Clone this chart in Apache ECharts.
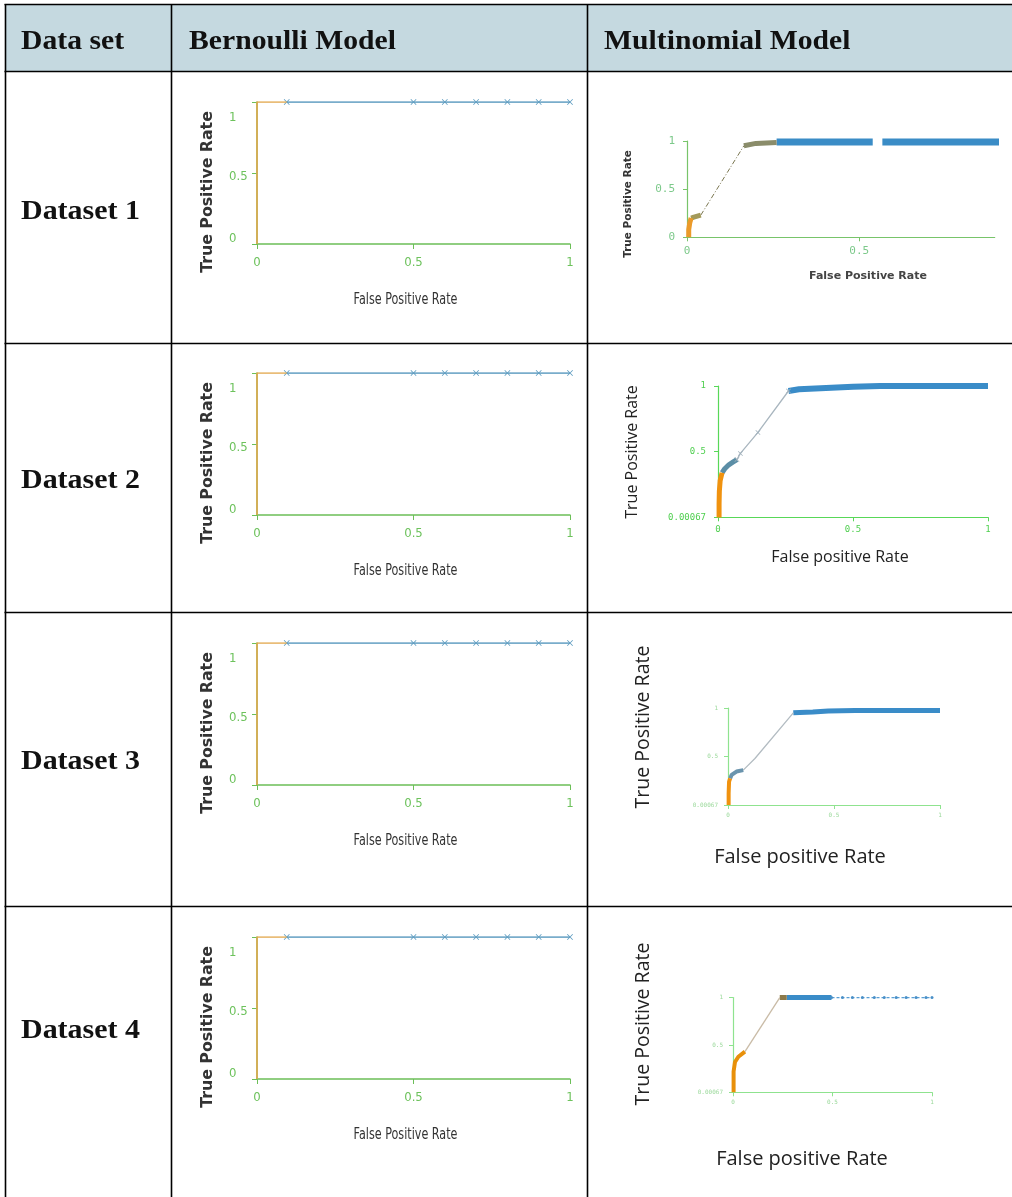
<!DOCTYPE html>
<html>
<head>
<meta charset="utf-8">
<script src="https://cdn.jsdelivr.net/npm/echarts@6/dist/echarts.min.js"></script>
<style>
html,body{margin:0;padding:0;background:#fff;}
#main{width:1012px;height:1197px;}
</style>
</head>
<body>
<div id="main"></div>
<script>
// ---------- DATA ----------
const columnHeaders = ['Data set', 'Bernoulli Model', 'Multinomial Model'];
const categories = ['Dataset 1', 'Dataset 2', 'Dataset 3', 'Dataset 4'];
const yTitle = 'True Positive Rate';
const bernXTitle = 'False Positive Rate';
const multiXTitles = ['False Positive Rate', 'False positive Rate', 'False positive Rate', 'False positive Rate'];

// Bernoulli model (identical for all four data sets)
const bernTicks = [0, 0.5, 1];
const bernOrangeFPR = [0, 0, 0.095];
const bernOrangeTPR = [0, 1, 1];
const bernBlueFPR = [0.095, 0.5, 0.6, 0.7, 0.8, 0.9, 1.0];
const bernBlueTPR = [1, 1, 1, 1, 1, 1, 1];

// Multinomial model, tick labels
const m1XTicks = [0, 0.5];
const m1YTicks = [0, 0.5, 1];
const mXTicks = [0, 0.5, 1];
const mYTicks = [0.00067, 0.5, 1];

// Multinomial - Dataset 1
const m1OrangeFPR = [0.005, 0.005, 0.008, 0.012];
const m1OrangeTPR = [0.0, 0.08, 0.15, 0.2];
const m1KneeFPR = [0.012, 0.02, 0.03, 0.04];
const m1KneeTPR = [0.2, 0.21, 0.22, 0.23];
const m1DiagFPR = [0.04, 0.165];
const m1DiagTPR = [0.23, 0.95];
const m1TopFPR = [0.165, 0.2, 0.26];
const m1TopTPR = [0.95, 0.975, 0.985];
const m1BandAFPR = [0.26, 0.4, 0.539];
const m1BandATPR = [0.99, 0.99, 0.99];
const m1BandBFPR = [0.567, 0.7, 0.85, 1.0];
const m1BandBTPR = [0.99, 0.99, 0.99, 0.99];

// Multinomial - Dataset 2
const m2OrangeFPR = [0.004, 0.004, 0.005, 0.008, 0.015];
const m2OrangeTPR = [0.0, 0.1, 0.2, 0.28, 0.34];
const m2KneeFPR = [0.015, 0.025, 0.04, 0.055, 0.07];
const m2KneeTPR = [0.34, 0.37, 0.40, 0.42, 0.44];
const m2DiagFPR = [0.07, 0.083, 0.148, 0.261];
const m2DiagTPR = [0.44, 0.487, 0.647, 0.962];
const m2BandFPR = [0.261, 0.3, 0.4, 0.5, 0.6, 0.8, 1.0];
const m2BandTPR = [0.962, 0.975, 0.985, 0.995, 1.0, 1.0, 1.0];

// Multinomial - Dataset 3
const m3OrangeFPR = [0.003, 0.003, 0.005, 0.01];
const m3OrangeTPR = [0.0, 0.12, 0.24, 0.275];
const m3KneeFPR = [0.01, 0.017, 0.04, 0.072];
const m3KneeTPR = [0.275, 0.31, 0.345, 0.36];
const m3DiagFPR = [0.072, 0.127, 0.308];
const m3DiagTPR = [0.36, 0.48, 0.95];
const m3BandFPR = [0.308, 0.4, 0.473, 0.6, 0.8, 1.0];
const m3BandTPR = [0.95, 0.96, 0.97, 0.975, 0.975, 0.975];

// Multinomial - Dataset 4
const m4OrangeFPR = [0.003, 0.003, 0.01, 0.027, 0.06];
const m4OrangeTPR = [0.0, 0.22, 0.32, 0.376, 0.43];
const m4DiagFPR = [0.06, 0.235];
const m4DiagTPR = [0.43, 1.0];
const m4KneeFPR = [0.235, 0.27];
const m4KneeTPR = [1.0, 1.0];
const m4BandFPR = [0.27, 0.35, 0.495];
const m4BandTPR = [1.0, 1.0, 1.0];
const m4TailFPR = [0.495, 0.55, 0.6, 0.65, 0.71, 0.76, 0.82, 0.87, 0.92, 0.97, 1.0];
const m4TailTPR = [1, 1, 1, 1, 1, 1, 1, 1, 1, 1, 1];

// ---------- BUILD ----------
function zip(a, b) { return a.map((v, i) => [v, b[i]]); }
const XMARK = 'path://M0,1L1,0L5,4L9,0L10,1L6,5L10,9L9,10L5,6L1,10L0,9L4,5Z';

const rowLines = [4.5, 71.5, 343.5, 612.5, 906.5];
const rowCenters = [212, 481, 762, 1031];
const bernTops = [102, 373, 643, 937];

const grids = [], xAxes = [], yAxes = [], series = [], graphics = [];

// Table
graphics.push({type: 'rect', shape: {x: 6, y: 5, width: 1006, height: 66}, style: {fill: '#c5d9e0'}, z: -10});
rowLines.forEach(y => graphics.push({type: 'line', shape: {x1: 4.5, y1: y, x2: 1012, y2: y}, style: {stroke: '#000', lineWidth: 1.6}}));
[5.5, 171.5, 587.5].forEach(x => graphics.push({type: 'line', shape: {x1: x, y1: 4, x2: x, y2: 1197}, style: {stroke: '#000', lineWidth: 1.6}}));

const headerX = [21, 189, 604];
columnHeaders.forEach((t, i) => graphics.push({
  type: 'text', x: headerX[i], y: 42, scaleX: 1.06,
  style: {text: t, font: 'bold 28px "Liberation Serif", serif', fill: '#111', textAlign: 'left', textVerticalAlign: 'middle'}
}));
categories.forEach((t, i) => graphics.push({
  type: 'text', x: 21, y: rowCenters[i], scaleX: 1.07,
  style: {text: t, font: 'bold 28px "Liberation Serif", serif', fill: '#111', textAlign: 'left', textVerticalAlign: 'middle'}
}));

function addTitle(text, x, y, font, color, rotate, sx, sy) {
  graphics.push({
    type: 'text', x: x, y: y, rotation: rotate ? Math.PI / 2 : 0, scaleX: sx || 1, scaleY: sy || 1,
    style: {text: text, font: font, fill: color, textAlign: 'center', textVerticalAlign: 'middle'}
  });
}

let gi = 0;
function addGrid(g, xa, ya) {
  grids.push(Object.assign({containLabel: false, outerBoundsMode: 'none'}, g));
  xAxes.push(Object.assign({gridIndex: gi, type: 'value', splitLine: {show: false}}, xa));
  yAxes.push(Object.assign({gridIndex: gi, type: 'value', splitLine: {show: false}}, ya));
  return gi++;
}

// Bernoulli charts
const bernGreen = '#6cbf58';
const bernFont = '"DejaVu Sans Condensed", "Liberation Sans Narrow", "DejaVu Sans", sans-serif';
const bernLabel = {color: '#6dc25c', fontSize: 13, fontFamily: bernFont};
const bernYRich = {
  hi: {color: '#6dc25c', fontSize: 13, fontFamily: bernFont, padding: [32, 0, 0, 0]},
  mid: {color: '#6dc25c', fontSize: 13, fontFamily: bernFont, padding: [8, 0, 0, 0]},
  lo: {color: '#6dc25c', fontSize: 13, fontFamily: bernFont, padding: [0, 0, 10, 0]}
};
for (let r = 0; r < 4; r++) {
  const top = bernTops[r];
  const idx = addGrid(
    {left: 257, top: top, width: 313, height: 142},
    {min: 0, max: 1, axisLine: {show: true, onZero: false, lineStyle: {color: bernGreen, width: 1.5}},
     axisTick: {show: true, customValues: bernTicks, length: 5, lineStyle: {color: bernGreen}},
     axisLabel: Object.assign({customValues: bernTicks, margin: 12}, bernLabel)},
    {min: 0, max: 1, axisLine: {show: true, onZero: false, lineStyle: {color: bernGreen, width: 1.5}},
     axisTick: {show: true, customValues: bernTicks, length: 5, lineStyle: {color: bernGreen}},
     axisLabel: Object.assign({customValues: bernTicks, margin: 28, align: 'left', rich: bernYRich,
       formatter: v => (v >= 1 ? '{hi|' : v > 0 ? '{mid|' : '{lo|') + v + '}'}, bernLabel)}
  );
  series.push({type: 'line', xAxisIndex: idx, yAxisIndex: idx, data: zip(bernOrangeFPR, bernOrangeTPR),
    symbol: 'none', lineStyle: {color: '#e2a84e', width: 1.6}, z: 4, silent: true});
  series.push({type: 'line', xAxisIndex: idx, yAxisIndex: idx, data: zip(bernBlueFPR, bernBlueTPR),
    symbol: XMARK, symbolSize: 6, showSymbol: true, itemStyle: {color: '#5d9cc0'},
    lineStyle: {color: '#4e92ba', width: 1.6}, z: 3, silent: true});
  addTitle(yTitle, 208, top + 90, 'bold 15px "DejaVu Sans", sans-serif', '#333', true, 1.05, 1);
  addTitle(bernXTitle, 405.5, top + 198, '13px "DejaVu Sans", sans-serif', '#333', false, 0.86, 1.2);
}

// Multinomial charts
function mAxes(cfg) {
  const lab = {color: cfg.labColor, fontSize: cfg.labSize, fontFamily: '"DejaVu Sans Mono", monospace'};
  return [
    {min: 0, max: cfg.xMax, axisLine: {show: true, onZero: false, lineStyle: {color: cfg.axColor, width: 1.2}},
     axisTick: {show: true, customValues: cfg.xTicks, length: 4, lineStyle: {color: cfg.axColor}},
     axisLabel: Object.assign({customValues: cfg.xTicks, margin: cfg.xMargin}, lab)},
    {min: cfg.yMin, max: 1, axisLine: {show: true, onZero: false, lineStyle: {color: cfg.axColor, width: 1.2}},
     axisTick: {show: true, customValues: cfg.yTicks, length: 4, lineStyle: {color: cfg.axColor}},
     axisLabel: Object.assign({customValues: cfg.yTicks, margin: cfg.yMargin}, lab)}
  ];
}
function line(idx, fpr, tpr, color, width, extra) {
  series.push(Object.assign({type: 'line', xAxisIndex: idx, yAxisIndex: idx, data: zip(fpr, tpr),
    symbol: 'none', lineStyle: {color: color, width: width}, silent: true}, extra || {}));
}

// Dataset 1
{
  const a = mAxes({xMax: 0.893, xTicks: m1XTicks, yTicks: m1YTicks, yMin: 0, axColor: '#78c46a', labColor: '#7cc98a', labSize: 11, xMargin: 8, yMargin: 12});
  const idx = addGrid({left: 687, top: 141, width: 307.7, height: 96.3}, a[0], a[1]);
  line(idx, m1BandAFPR, m1BandATPR, '#3a8cc6', 7);
  line(idx, m1BandBFPR, m1BandBTPR, '#3a8cc6', 7);
  line(idx, m1TopFPR, m1TopTPR, '#8a8c6a', 5);
  line(idx, m1DiagFPR, m1DiagTPR, '#7a7650', 1, {lineStyle: {color: '#7a7650', width: 1, type: [5, 2, 1, 2]}});
  line(idx, m1KneeFPR, m1KneeTPR, '#a39a5a', 5);
  line(idx, m1OrangeFPR, m1OrangeTPR, '#eb9a2a', 5);
  addTitle(yTitle, 628, 204, 'bold 10.5px "DejaVu Sans", sans-serif', '#333', true);
  addTitle(multiXTitles[0], 868, 276, 'bold 11px "DejaVu Sans", sans-serif', '#444');
}
// Dataset 2
{
  const a = mAxes({xMax: 1, xTicks: mXTicks, yTicks: mYTicks, yMin: 0.00067, axColor: '#58d858', labColor: '#4fcf4f', labSize: 9, xMargin: 8, yMargin: 12});
  const idx = addGrid({left: 718, top: 386, width: 270, height: 131.3}, a[0], a[1]);
  line(idx, m2BandFPR, m2BandTPR, '#3a8cc8', 6);
  line(idx, m2DiagFPR, m2DiagTPR, '#a9b6bf', 1.3, {symbol: XMARK, symbolSize: 5, showSymbol: true, itemStyle: {color: '#9fb0bb'}});
  line(idx, m2KneeFPR, m2KneeTPR, '#5b8ea6', 5);
  line(idx, m2OrangeFPR, m2OrangeTPR, '#f0920f', 5);
  addTitle(yTitle, 632, 452, '16px "Open Sans", sans-serif', '#222', true);
  addTitle(multiXTitles[1], 840, 557, '16px "Open Sans", sans-serif', '#222');
}
// Dataset 3
{
  const a = mAxes({xMax: 1, xTicks: mXTicks, yTicks: mYTicks, yMin: 0.00067, axColor: '#8fe38f', labColor: '#9bd99b', labSize: 6, xMargin: 7, yMargin: 10});
  const idx = addGrid({left: 728, top: 708, width: 212, height: 97}, a[0], a[1]);
  line(idx, m3BandFPR, m3BandTPR, '#3a8cc8', 5);
  line(idx, m3DiagFPR, m3DiagTPR, '#b3bcc2', 1.3);
  line(idx, m3KneeFPR, m3KneeTPR, '#6a94ad', 4);
  line(idx, m3OrangeFPR, m3OrangeTPR, '#f0920f', 4);
  addTitle(yTitle, 643, 727, '19.5px "Open Sans", sans-serif', '#222', true);
  addTitle(multiXTitles[2], 800, 857, '20px "Open Sans", sans-serif', '#222');
}
// Dataset 4
{
  const a = mAxes({xMax: 1, xTicks: mXTicks, yTicks: mYTicks, yMin: 0.00067, axColor: '#8fe38f', labColor: '#9bd99b', labSize: 6, xMargin: 7, yMargin: 10});
  const idx = addGrid({left: 733, top: 997.6, width: 199, height: 94.7}, a[0], a[1]);
  line(idx, m4TailFPR, m4TailTPR, '#5a9fd4', 1.2, {lineStyle: {color: '#5a9fd4', width: 1.2, type: [3, 2]}, symbol: 'circle', symbolSize: 3, showSymbol: true, itemStyle: {color: '#4a90c8'}});
  line(idx, m4BandFPR, m4BandTPR, '#3a8cc8', 5);
  line(idx, m4KneeFPR, m4KneeTPR, '#8c7a4a', 5);
  line(idx, m4DiagFPR, m4DiagTPR, '#c9bba6', 1.3);
  line(idx, m4OrangeFPR, m4OrangeTPR, '#e8900a', 4);
  addTitle(yTitle, 643, 1024, '19.5px "Open Sans", sans-serif', '#222', true);
  addTitle(multiXTitles[3], 802, 1159, '20px "Open Sans", sans-serif', '#222');
}

const chart = echarts.init(document.getElementById('main'), null, {renderer: 'canvas'});
chart.setOption({
  animation: false,
  backgroundColor: '#ffffff',
  grid: grids,
  xAxis: xAxes,
  yAxis: yAxes,
  series: series,
  graphic: {elements: graphics}
});
</script>
</body>
</html>
